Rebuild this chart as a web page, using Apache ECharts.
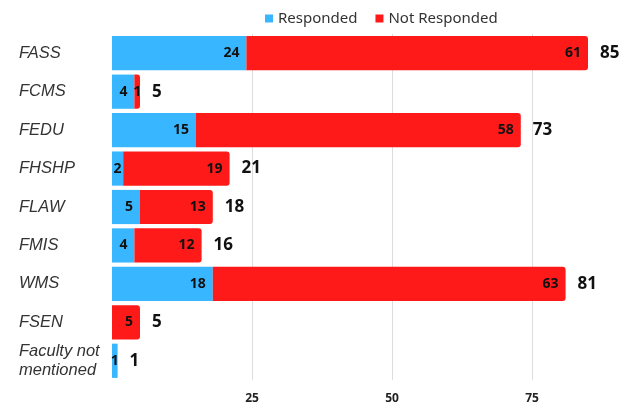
<!DOCTYPE html>
<html>
<head>
<meta charset="utf-8">
<script src="https://cdn.jsdelivr.net/npm/echarts@6/dist/echarts.min.js"></script>
<style>
  html, body { margin: 0; padding: 0; background: #fff; }
  #chart { width: 634px; height: 407px; }
</style>
</head>
<body>
<div id="chart"></div>
<script>
const faculties = ['FASS', 'FCMS', 'FEDU', 'FHSHP', 'FLAW', 'FMIS', 'WMS', 'FSEN', 'Faculty not\nmentioned'];
const responded = [24, 4, 15, 2, 5, 4, 18, 0, 1];
const notResponded = [61, 1, 58, 19, 13, 12, 63, 5, 0];
const totals = faculties.map((f, i) => responded[i] + notResponded[i]);

const chart = echarts.init(document.getElementById('chart'));

const labelBase = {
  show: true,
  color: '#111',
  fontFamily: 'Open Sans',
  fontWeight: 'bold',
  fontSize: 14,
  formatter: p => (p.value ? p.value : '')
};

// tiny segments get a centred label, the rest sit near the right end
function segData(values) {
  return values.map(v => ({
    value: v,
    label: v <= 2
      ? Object.assign({}, labelBase, { position: 'inside' })
      : Object.assign({}, labelBase, { position: 'insideRight', distance: 7 })
  }));
}

chart.setOption({
  backgroundColor: '#fff',
  animation: false,
  legend: {
    top: 6,
    left: 260,
    itemWidth: 8,
    itemHeight: 8,
    itemGap: 18,
    icon: 'rect',
    textStyle: { fontFamily: 'Noto Sans', fontSize: 15, color: '#333' },
    data: ['Responded', 'Not Responded']
  },
  grid: { left: 112, right: 46, top: 34, bottom: 27, outerBoundsMode: 'none' },
  xAxis: {
    type: 'value',
    min: 0,
    max: 85,
    interval: 25,
    axisLine: { show: false },
    axisTick: { show: false },
    splitLine: { show: true, showMinLine: false, showMaxLine: false, lineStyle: { color: '#dddddd' } },
    axisLabel: {
      showMinLabel: false,
      showMaxLabel: false,
      margin: 13,
      color: '#222',
      fontFamily: 'Open Sans',
      fontWeight: 'bold',
      fontSize: 12
    }
  },
  yAxis: {
    type: 'category',
    inverse: true,
    data: faculties.map(f => ({
      value: f,
      textStyle: {
        align: 'left',
        padding: f.indexOf('\n') >= 0 ? [8, 0, 0, 0] : [0, 0, 10, 0]
      }
    })),
    axisLine: { show: false },
    axisTick: { show: false },
    axisLabel: {
      align: 'left',
      margin: 93,
      color: '#333',
      fontFamily: 'Liberation Sans',
      fontStyle: 'italic',
      fontSize: 16.5,
      lineHeight: 19,
      padding: [0, 0, 10, 0]
    }
  },
  series: [
    {
      name: 'Responded',
      type: 'bar',
      stack: 'all',
      barCategoryGap: '11%',
      itemStyle: { color: '#38b6ff' },
      data: segData(responded)
    },
    {
      name: 'Not Responded',
      type: 'bar',
      stack: 'all',
      itemStyle: { color: '#ff1a1a', borderRadius: [0, 3, 3, 0] },
      data: segData(notResponded)
    },
    {
      name: 'Total',
      type: 'bar',
      stack: 'all',
      data: totals.map(() => 0),
      itemStyle: { color: 'transparent' },
      label: {
        show: true,
        position: 'right',
        distance: 12,
        color: '#111',
        fontFamily: 'Open Sans',
        fontWeight: 'bold',
        fontSize: 17,
        formatter: p => totals[p.dataIndex]
      }
    }
  ]
});
</script>
</body>
</html>
